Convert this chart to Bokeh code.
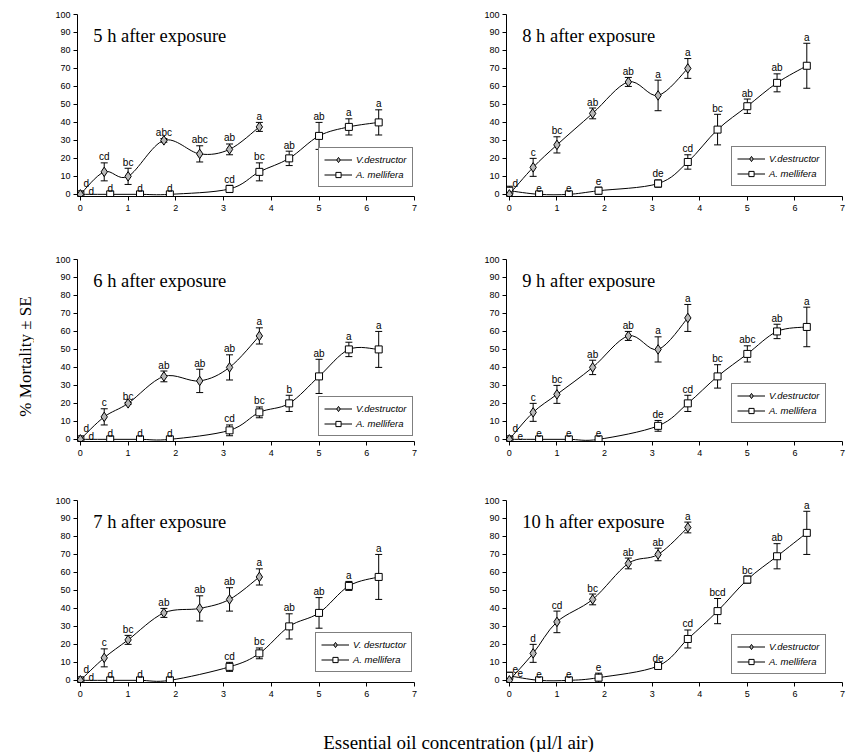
import numpy as np
from bokeh.plotting import figure
from bokeh.models import (Range1d, Legend, LegendItem, Whisker, ColumnDataSource,
                          Label, TeeHead, FixedTicker)
from bokeh.layouts import column, row
from bokeh.embed import file_html
from bokeh.resources import INLINE
from bokeh.core.properties import value

# ---------------- data ----------------
# concentrations (ul/l air)
mite_conc = [0, 0.5, 1.0, 1.75, 2.5, 3.125, 3.75]
bee_conc = [0, 0.625, 1.25, 1.875, 3.125, 3.75, 4.375, 5.0, 5.625, 6.25]
x_ticks = [0, 1, 2, 3, 4, 5, 6, 7]
y_ticks = [0, 10, 20, 30, 40, 50, 60, 70, 80, 90, 100]

# 5 h
mite_5h = [0, 12.5, 10, 30, 22.5, 25, 37.5]
mite_5h_se = [0, 5, 4.5, 1, 4.5, 3, 2.5]
mite_5h_let = ["d", "cd", "bc", "abc", "abc", "ab", "a"]
bee_5h = [0, 0, 0, 0, 3, 12.5, 20, 32.5, 37.5, 40]
bee_5h_se = [0, 0, 0, 0, 2, 5, 4, 7.5, 4.5, 7]
bee_5h_let = ["d", "d", "d", "d", "cd", "bc", "ab", "ab", "a", "a"]

# 6 h
mite_6h = [0, 12.5, 20, 35, 32.5, 40, 57.5]
mite_6h_se = [0, 4.5, 0.5, 3, 6.5, 7, 4.5]
mite_6h_let = ["d", "c", "bc", "ab", "ab", "ab", "a"]
bee_6h = [0, 0, 0, 0, 5, 15, 20, 35, 50, 50]
bee_6h_se = [0, 0, 0, 0, 3, 3, 4.5, 9.5, 4, 10]
bee_6h_let = ["d", "d", "d", "d", "cd", "bc", "b", "ab", "a", "a"]

# 7 h
mite_7h = [0, 12.5, 22.5, 37.5, 40, 45, 57.5]
mite_7h_se = [0, 5, 2.5, 2.5, 7, 6.5, 4.5]
mite_7h_let = ["d", "c", "bc", "ab", "ab", "ab", "a"]
bee_7h = [0, 0, 0, 0, 7.5, 15, 30, 37.5, 52.5, 57.5]
bee_7h_se = [0, 0, 0, 0, 2.5, 3, 7, 8.5, 2.5, 12.5]
bee_7h_let = ["d", "d", "d", "d", "cd", "bc", "ab", "ab", "a", "a"]

# 8 h
mite_8h = [0, 15, 27.5, 45, 62.5, 55, 70]
mite_8h_se = [0, 5, 4.5, 3, 2.5, 8.5, 5.5]
mite_8h_let = ["d", "c", "bc", "ab", "ab", "a", "a"]
bee_8h = [2, 0, 0, 2, 6, 18, 36, 49, 62, 71.5]
bee_8h_se = [2.5, 0, 0, 2, 2, 4, 8.5, 4, 5, 12.5]
bee_8h_let = ["", "e", "e", "e", "de", "cd", "bc", "ab", "ab", "a"]

# 9 h
mite_9h = [0, 15, 25, 40, 57.5, 50, 67.5]
mite_9h_se = [0, 5, 5, 4, 2.5, 7, 7.5]
mite_9h_let = ["d", "c", "bc", "ab", "ab", "a", "a"]
bee_9h = [0, 0, 0, 0, 7.5, 20, 35, 47.5, 60, 62.5]
bee_9h_se = [0, 0, 0, 0, 3, 4.5, 6.5, 4.5, 4, 11]
bee_9h_let = ["e", "e", "e", "e", "de", "cd", "bc", "abc", "ab", "a"]

# 10 h
mite_10h = [0, 15, 32.5, 45, 65, 70, 85]
mite_10h_se = [0, 5, 6, 3, 3, 3.5, 3]
mite_10h_let = ["e", "d", "cd", "bc", "ab", "ab", "a"]
bee_10h = [2.5, 0, 0, 1.5, 8, 23, 38.5, 56, 69, 82]
bee_10h_se = [2, 0, 0, 2.5, 1, 5, 7, 2, 7, 12]
bee_10h_let = ["e", "e", "e", "e", "de", "cd", "bcd", "bc", "ab", "a"]

titles = ["5 h after exposure", "8 h after exposure", "6 h after exposure",
          "9 h after exposure", "7 h after exposure", "10 h after exposure"]
mite_names = ["V.destructor", "V.destructor", "V.destructor",
              "V.destructor", "V. desrtuctor", "V.destructor"]
bee_name = "A. mellifera"
x_title = "Essential oil concentration (\u00b5l/l air)"
y_title = "% Mortality \u00b1 SE"

# ---------------- geometry ----------------
STRIP_W = 34
FW_L, FW_R, FH = 337, 336, 182
SANS = "Liberation Sans"
SERIF = "Liberation Serif"
ROWS = [dict(top=14, bottom=57), dict(top=6, bottom=53), dict(top=6, bottom=22)]


def bezier_src(xs, ys):
    xs = np.asarray(xs, float)
    ys = np.asarray(ys, float)
    n = len(xs)
    xp = np.concatenate([[xs[0]], xs, [xs[-1]]])
    yp = np.concatenate([[ys[0]], ys, [ys[-1]]])
    cx0 = xp[1:n] + (xp[2:n + 1] - xp[0:n - 1]) / 6.0
    cy0 = yp[1:n] + (yp[2:n + 1] - yp[0:n - 1]) / 6.0
    cx1 = xp[2:n + 1] - (xp[3:n + 2] - xp[1:n]) / 6.0
    cy1 = yp[2:n + 1] - (yp[3:n + 2] - yp[1:n]) / 6.0
    return ColumnDataSource(dict(x0=xs[:-1], y0=ys[:-1], x1=xs[1:], y1=ys[1:],
                                 cx0=cx0, cy0=cy0, cx1=cx1, cy1=cy1))


def add_series(p, xs, ys, se, letters, marker, is_bee):
    src = bezier_src(xs, ys)
    curve = p.bezier(x0="x0", y0="y0", x1="x1", y1="y1", cx0="cx0", cy0="cy0",
                     cx1="cx1", cy1="cy1", source=src, line_color="black", line_width=1)
    xs_a = np.asarray(xs, float)
    ys_a = np.asarray(ys, float)
    se_a = np.asarray(se, float)
    m = se_a > 0
    if m.any():
        wsrc = ColumnDataSource(dict(x=xs_a[m], lo=ys_a[m] - se_a[m], hi=ys_a[m] + se_a[m]))
        w = Whisker(base="x", lower="lo", upper="hi", source=wsrc, dimension="height",
                    line_color="black", line_width=1,
                    upper_head=TeeHead(size=7, line_color="black", line_width=1),
                    lower_head=TeeHead(size=7, line_color="black", line_width=1))
        p.add_layout(w)
    if marker == "diamond":
        pts = p.scatter(xs_a, ys_a, marker="diamond", size=9.5,
                        fill_color="#b8b8b8", line_color="black", line_width=1)
    else:
        pts = p.scatter(xs_a, ys_a, marker="square", size=7,
                        fill_color="white", line_color="black", line_width=1)
    # letter labels
    ty = np.where(xs_a == 0, ys_a, ys_a + se_a)
    xo = np.where(xs_a == 0, 11 if is_bee else 6, 0)
    yo = np.where(xs_a == 0, -3 if is_bee else -11, -6)
    lsrc = ColumnDataSource(dict(x=xs_a, y=ty, t=list(letters), xo=xo, yo=yo))
    p.text(x="x", y="y", text="t", x_offset="xo", y_offset="yo", source=lsrc,
           text_font=value(SANS), text_font_size="10px", text_color="black",
           text_align="center", text_baseline="alphabetic")
    return curve, pts


def make_panel(idx, mite, mite_se, mite_let, bee, bee_se, bee_let, is_left, r, leg_y):
    fw = FW_L if is_left else FW_R
    p = figure(output_backend="svg", toolbar_location=None, title=None,
               x_range=Range1d(-0.06, 7), y_range=Range1d(-1.2, 100),
               frame_width=fw, frame_height=FH,
               min_border_left=43 if is_left else 82,
               min_border_right=10 if is_left else 4,
               min_border_top=ROWS[r]["top"], min_border_bottom=ROWS[r]["bottom"])
    p.outline_line_color = None
    p.xgrid.visible = False
    p.ygrid.visible = False
    p.xaxis.ticker = FixedTicker(ticks=x_ticks)
    p.yaxis.ticker = FixedTicker(ticks=y_ticks)
    for ax in (p.xaxis, p.yaxis):
        ax.minor_tick_line_color = None
        ax.major_tick_in = 0
        ax.major_tick_out = 4
        ax.axis_line_color = "black"
        ax.major_tick_line_color = "black"
        ax.major_label_text_font = SANS
        ax.major_label_text_font_size = "9px"
        ax.major_label_text_color = "black"
    p.xaxis.major_label_standoff = 4
    p.yaxis.major_label_standoff = 3

    bc, bp = add_series(p, bee_conc, bee, bee_se, bee_let, "square", True)
    mc, mp = add_series(p, mite_conc, mite, mite_se, mite_let, "diamond", False)

    p.add_layout(Label(x=0.27, y=88, text=titles[idx], text_font=SERIF,
                       text_font_size="18.5px", text_color="black",
                       text_baseline="alphabetic"))

    lw = 97 if idx == 4 else 94
    leg_x = (fw - 2 - lw) if is_left else (fw - 17 - lw)
    legend = Legend(items=[LegendItem(label=mite_names[idx], renderers=[mc, mp]),
                           LegendItem(label=bee_name, renderers=[bc, bp])],
                    location=(leg_x, leg_y), margin=0, padding=5, spacing=2,
                    glyph_width=28, glyph_height=13, label_height=13,
                    label_standoff=4, label_text_font=SANS,
                    label_text_font_style="italic", label_text_font_size="9.5px",
                    label_text_color="black",
                    border_line_color="black", border_line_width=1,
                    background_fill_color="white", background_fill_alpha=1)
    p.add_layout(legend, "center")
    return p


p5 = make_panel(0, mite_5h, mite_5h_se, mite_5h_let, bee_5h, bee_5h_se, bee_5h_let, True, 0, 9)
p8 = make_panel(1, mite_8h, mite_8h_se, mite_8h_let, bee_8h, bee_8h_se, bee_8h_let, False, 0, 10)
p6 = make_panel(2, mite_6h, mite_6h_se, mite_6h_let, bee_6h, bee_6h_se, bee_6h_let, True, 1, 5)
p9 = make_panel(3, mite_9h, mite_9h_se, mite_9h_let, bee_9h, bee_9h_se, bee_9h_let, False, 1, 18)
p7 = make_panel(4, mite_7h, mite_7h_se, mite_7h_let, bee_7h, bee_7h_se, bee_7h_let, True, 2, 10)
p10 = make_panel(5, mite_10h, mite_10h_se, mite_10h_let, bee_10h, bee_10h_se, bee_10h_let, False, 2, 8)

grid_h = sum(FH + rr["top"] + rr["bottom"] for rr in ROWS)
total_w = STRIP_W + 43 + FW_L + 10 + 82 + FW_R + 4

# y title strip
ys = figure(output_backend="svg", toolbar_location=None, title=None,
            width=STRIP_W, height=grid_h, x_range=Range1d(0, STRIP_W),
            y_range=Range1d(0, grid_h), x_axis_type=None, y_axis_type=None,
            min_border=0)
ys.outline_line_color = None
ys.text(x=[25], y=[grid_h - 356], text=[y_title], angle=np.pi / 2,
        text_font=value(SERIF), text_font_size="17px", text_color="black",
        text_align="center", text_baseline="alphabetic")

# x title strip
XH = 48
xs_fig = figure(output_backend="svg", toolbar_location=None, title=None,
                width=total_w, height=XH, x_range=Range1d(0, total_w),
                y_range=Range1d(0, XH), x_axis_type=None, y_axis_type=None,
                min_border=0)
xs_fig.outline_line_color = None
xs_fig.text(x=[458], y=[10], text=[x_title], text_font=value(SERIF),
            text_font_size="19px", text_color="black",
            text_align="center", text_baseline="alphabetic")

layout = column(row(ys, column(row(p5, p8), row(p6, p9), row(p7, p10))), xs_fig)

open("out.html", "w").write(file_html(layout, INLINE))
